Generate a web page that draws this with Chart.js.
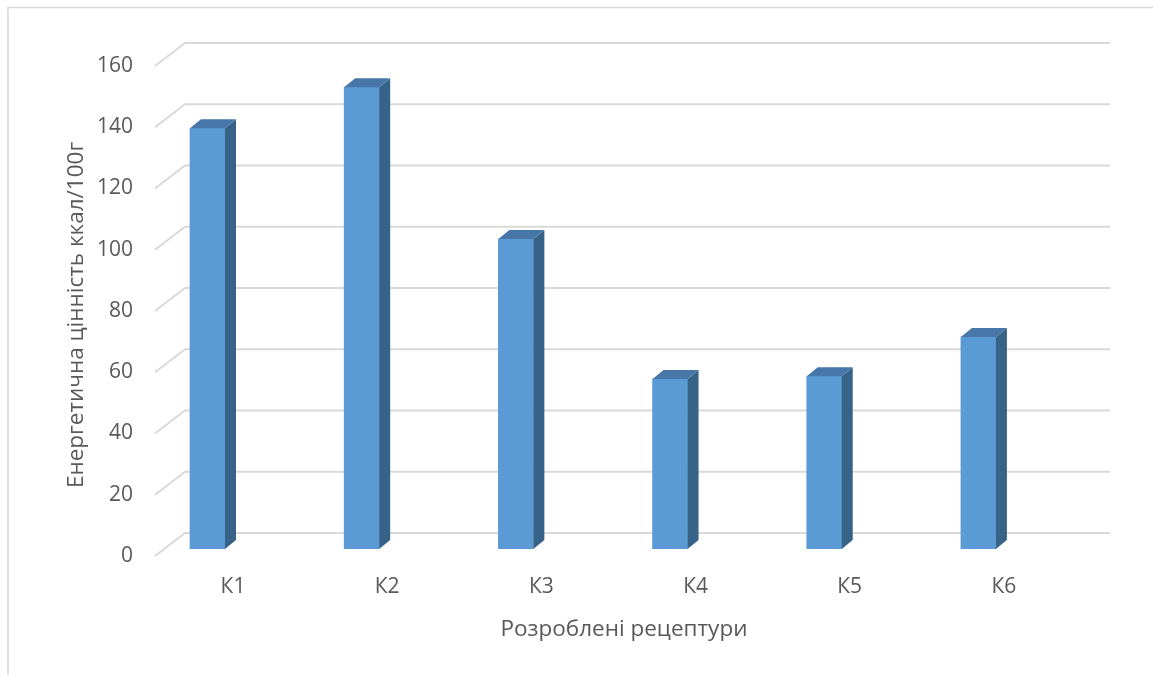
<!DOCTYPE html>
<html>
<head>
<meta charset="utf-8">
<script src="https://cdn.jsdelivr.net/npm/chart.js@4"></script>
<style>
  html, body { margin: 0; padding: 0; background: #fff; }
  canvas { display: block; }
</style>
</head>
<body>
<canvas id="chart" width="1153" height="675"></canvas>
<script>
// data
const categories = ["К1", "К2", "К3", "К4", "К5", "К6"];
const energyValues = [137.4, 150.8, 101.2, 55.5, 56.4, 69.2];
const yTicks = [0, 20, 40, 60, 80, 100, 120, 140, 160];
const yTitle = "Енергетична цінність ккал/100г";
const xTitle = "Розроблені рецептури";

const FONT = "'Open Sans', 'Noto Sans', sans-serif";
const TEXT = "#595959";
const GRID = "#d9d9d9";

// depth of the fake 3d
const BAR_DX = 11, BAR_DY = -9;
const FRONT_DX = 24.6, FRONT_DY = 7;
const BACK_DX = 54.6, BACK_DY = -16;

const gridPlugin = {
  id: "grid3d",
  // back wall gridlines + the short floor edges
  beforeDatasetsDraw(chart) {
    const { ctx, chartArea, scales } = chart;
    ctx.save();
    ctx.strokeStyle = GRID;
    ctx.lineWidth = 2;
    yTicks.forEach(v => {
      const y = scales.y.getPixelForValue(v);
      ctx.beginPath();
      ctx.moveTo(chartArea.left + FRONT_DX, y + FRONT_DY);
      ctx.lineTo(chartArea.left + BACK_DX, y + BACK_DY);
      ctx.lineTo(chartArea.right + BACK_DX, y + BACK_DY);
      ctx.stroke();
    });
    ctx.restore();
  },
  // side and top faces of each bar
  afterDatasetsDraw(chart) {
    const { ctx } = chart;
    const meta = chart.getDatasetMeta(0);
    ctx.save();
    meta.data.forEach(bar => {
      const p = bar.getProps(["x", "y", "base", "width"], true);
      const l = p.x - p.width / 2, r = p.x + p.width / 2;
      ctx.fillStyle = "#386388";
      ctx.beginPath();
      ctx.moveTo(r, p.y);
      ctx.lineTo(r + BAR_DX, p.y + BAR_DY);
      ctx.lineTo(r + BAR_DX, p.base + BAR_DY);
      ctx.lineTo(r, p.base);
      ctx.closePath();
      ctx.fill();
      ctx.fillStyle = "#4677a8";
      ctx.beginPath();
      ctx.moveTo(l, p.y);
      ctx.lineTo(l + BAR_DX, p.y + BAR_DY);
      ctx.lineTo(r + BAR_DX, p.y + BAR_DY);
      ctx.lineTo(r, p.y);
      ctx.closePath();
      ctx.fill();
    });
    ctx.restore();
  },
  afterDraw(chart) {
    const { ctx, scales } = chart;
    ctx.save();
    // chart border (only top and left are visible)
    ctx.strokeStyle = GRID;
    ctx.lineWidth = 1.5;
    ctx.beginPath();
    ctx.moveTo(8, 680);
    ctx.lineTo(8, 7.5);
    ctx.lineTo(1160, 7.5);
    ctx.stroke();

    ctx.fillStyle = TEXT;
    ctx.font = "21px " + FONT;
    ctx.textBaseline = "middle";
    // y tick labels sit on the front edge of the floor
    ctx.textAlign = "right";
    yTicks.forEach(v => {
      ctx.fillText(String(v), 133, scales.y.getPixelForValue(v) + FRONT_DY);
    });
    // category labels
    ctx.textAlign = "center";
    categories.forEach((c, i) => {
      ctx.fillText(c, scales.x.getPixelForTick(i) + 25.5, 587);
    });
    // axis titles
    ctx.font = "22.5px " + FONT;
    ctx.fillText(xTitle, 624, 630);
    ctx.translate(77, 315);
    ctx.rotate(-Math.PI / 2);
    ctx.fillText(yTitle, 0, 0);
    ctx.restore();
  }
};

new Chart(document.getElementById("chart"), {
  type: "bar",
  data: {
    labels: categories,
    datasets: [{
      data: energyValues,
      backgroundColor: "#5b9bd5",
      borderWidth: 0,
      barThickness: 35
    }]
  },
  options: {
    responsive: false,
    animation: false,
    events: [],
    layout: { padding: { left: 10.4, right: 97.5, top: 59, bottom: 86 } },
    plugins: { legend: { display: false }, tooltip: { enabled: false } },
    scales: {
      x: {
        afterFit: axis => { axis.height = 40; },
        grid: { display: false },
        border: { display: false },
        ticks: { display: false }
      },
      y: {
        min: 0,
        max: 160,
        afterFit: axis => { axis.width = 120; },
        afterBuildTicks: axis => { axis.ticks = yTicks.map(v => ({ value: v })); },
        grid: { display: false, drawTicks: false },
        border: { display: false },
        ticks: { display: false }
      }
    }
  },
  plugins: [gridPlugin]
});
</script>
</body>
</html>
